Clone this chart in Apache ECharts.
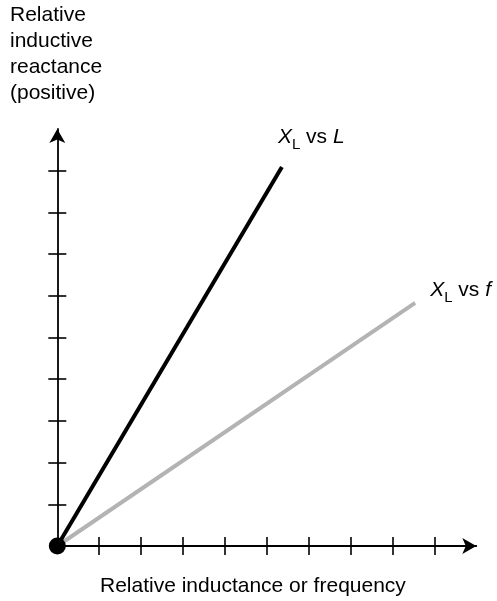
<!DOCTYPE html>
<html>
<head>
<meta charset="utf-8">
<script src="https://cdn.jsdelivr.net/npm/echarts@6/dist/echarts.min.js"></script>
<style>
html,body{margin:0;padding:0;background:#fff;}
#c{width:497px;height:601px;}
</style>
</head>
<body>
<div id="c"></div>
<script>
const xTicks = [1, 2, 3, 4, 5, 6, 7, 8, 9];
const yTicks = [1, 2, 3, 4, 5, 6, 7, 8, 9];
const lineVsL = [[0, 0], [5.36, 9.09]];
const lineVsF = [[0, 0], [8.54, 5.83]];
const origin = [[0, 0]];
const yTitle = 'Relative\ninductive\nreactance\n(positive)';
const xTitle = 'Relative inductance or frequency';

const FONT = '"Liberation Sans", Arial, Helvetica, sans-serif';
const chart = echarts.init(document.getElementById('c'), null, {renderer: 'canvas'});

function axisPair(dim, ticks) {
  const base = {
    type: 'value', min: 0, max: 10,
    axisLabel: {show: false}, splitLine: {show: false}
  };
  const a = Object.assign({}, base, {
    position: dim === 'x' ? 'bottom' : 'left',
    axisLine: {show: true, onZero: false, lineStyle: {color: '#000', width: 1.8},
      symbol: ['none', 'arrow'], symbolSize: [12, 14]},
    axisTick: {show: true, customValues: ticks, inside: false, length: 9,
      lineStyle: {color: '#000', width: 1.6}}
  });
  const b = Object.assign({}, base, {
    position: dim === 'x' ? 'bottom' : 'left',
    offset: 0,
    axisLine: {show: false, onZero: false},
    axisTick: {show: true, customValues: ticks, inside: true, length: 9,
      lineStyle: {color: '#000', width: 1.6}}
  });
  return [a, b];
}

const labelRich = {
  x: {fontFamily: FONT, fontSize: 21, fontStyle: 'italic', color: '#000', lineHeight: 30, verticalAlign: 'middle'},
  sub: {fontFamily: FONT, fontSize: 15, color: '#000', lineHeight: 16, verticalAlign: 'bottom'},
  n: {fontFamily: FONT, fontSize: 21, color: '#000', lineHeight: 30, verticalAlign: 'middle'},
  i: {fontFamily: FONT, fontSize: 21, fontStyle: 'italic', color: '#000', lineHeight: 30, verticalAlign: 'middle'}
};

chart.setOption({
  animation: false,
  backgroundColor: '#fff',
  title: [
    {text: yTitle, left: 10, top: 2, padding: 0,
      textStyle: {fontFamily: FONT, fontSize: 21, fontWeight: 'normal', color: '#000', lineHeight: 26}},
    {text: xTitle, left: 100, top: 576, padding: 0,
      textStyle: {fontFamily: FONT, fontSize: 21, fontWeight: 'normal', color: '#000'}}
  ],
  grid: {left: 57.3, right: 20.7, top: 129, bottom: 55, containLabel: false},
  xAxis: axisPair('x', xTicks),
  yAxis: axisPair('y', yTicks),
  series: [
    {
      type: 'line', data: lineVsF, showSymbol: false, z: 3,
      lineStyle: {color: '#b3b3b3', width: 4},
      endLabel: {show: true, distance: 0, offset: [15, -13], align: 'left',
        formatter: '{x|X}{sub|L}{n| vs }{i|f}', rich: labelRich}
    },
    {
      type: 'line', data: lineVsL, showSymbol: false, z: 4,
      lineStyle: {color: '#000', width: 4},
      endLabel: {show: true, distance: 0, offset: [-4, -30], align: 'left',
        formatter: '{x|X}{sub|L}{n| vs }{i|L}', rich: labelRich}
    },
    {
      type: 'scatter', data: origin, symbol: 'circle', symbolSize: 17, z: 10,
      itemStyle: {color: '#000', opacity: 1}
    }
  ]
});
</script>
</body>
</html>
